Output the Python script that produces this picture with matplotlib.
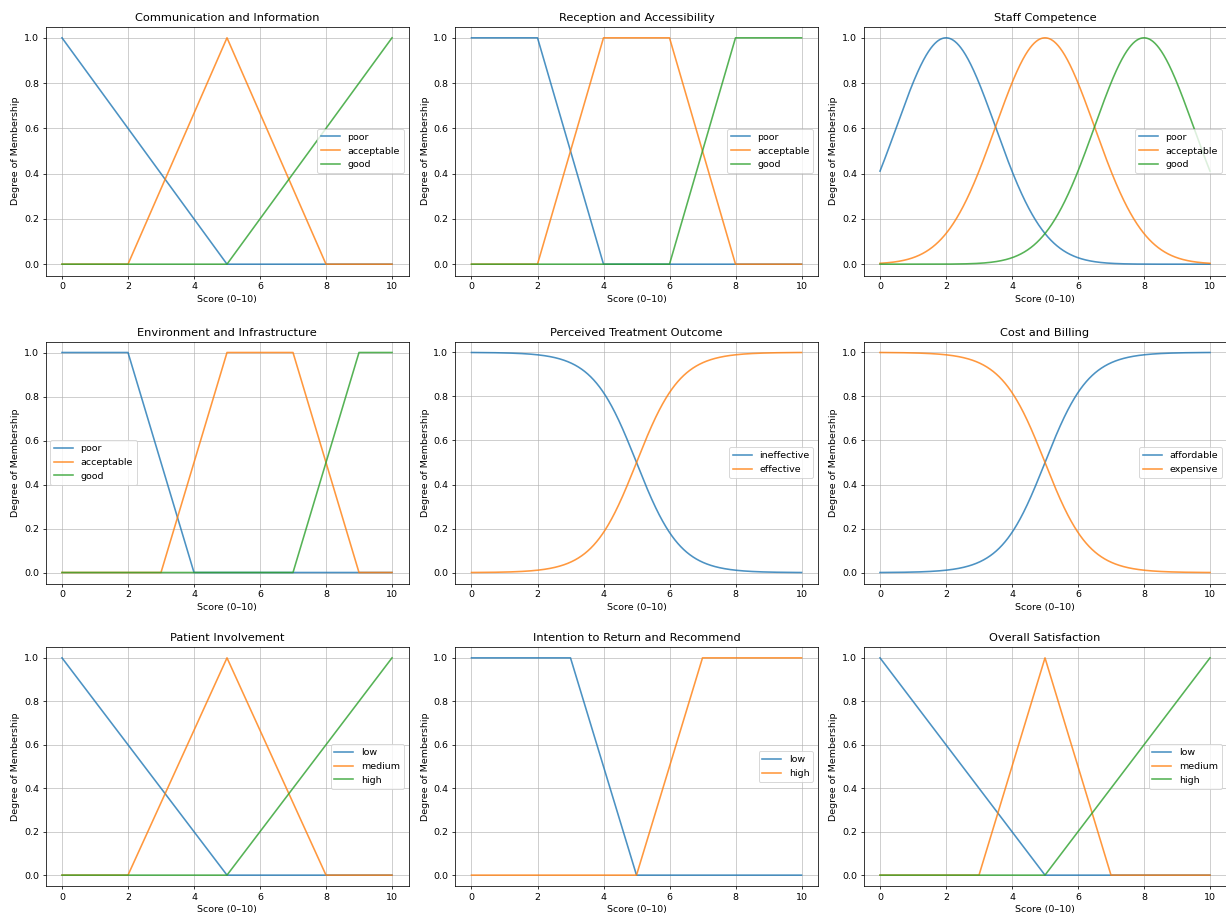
import numpy as np
import matplotlib
matplotlib.use('Agg')
from matplotlib import pyplot as plt

# Universo de discurso das notas
x = np.linspace(0, 10, 1001)

# Parametros das funcoes de pertinencia de cada variavel
comunicacao_nomes = ['poor', 'acceptable', 'good']
comunicacao_params = [[0, 0, 5], [2, 5, 8], [5, 10, 10]]

recepcao_nomes = ['poor', 'acceptable', 'good']
recepcao_params = [[0, 0, 2, 4], [2, 4, 6, 8], [6, 8, 10, 10]]

equipe_nomes = ['poor', 'acceptable', 'good']
equipe_centros = [2, 5, 8]
equipe_sigma = 1.5

ambiente_nomes = ['poor', 'acceptable', 'good']
ambiente_params = [[0, 0, 2, 4], [3, 5, 7, 9], [7, 9, 10, 10]]

resultado_nomes = ['ineffective', 'effective']
resultado_params = [[5, -1.5], [5, 1.5]]   # centro, inclinacao

custo_nomes = ['affordable', 'expensive']
custo_params = [[5, 1.5], [5, -1.5]]

envolvimento_nomes = ['low', 'medium', 'high']
envolvimento_params = [[0, 0, 5], [2, 5, 8], [5, 10, 10]]

retorno_nomes = ['low', 'high']
retorno_params = [[0, 0, 3, 5], [5, 7, 10, 10]]

satisfacao_nomes = ['low', 'medium', 'high']
satisfacao_params = [[0, 0, 5], [3, 5, 7], [5, 10, 10]]


def trimf(x, p):
    a, b, c = p
    return np.interp(x, [a, b, c], [1.0 if a == b else 0.0, 1.0, 1.0 if b == c else 0.0])


def trapmf(x, p):
    a, b, c, d = p
    return np.interp(x, [a, b, c, d], [1.0 if a == b else 0.0, 1.0, 1.0, 1.0 if c == d else 0.0])


def gaussmf(x, c, s):
    return np.exp(-((x - c) ** 2) / (2 * s ** 2))


def sigmf(x, p):
    c, k = p
    return 1.0 / (1.0 + np.exp(-k * (x - c)))


paineis = [
    ('Communication and Information', comunicacao_nomes,
     [trimf(x, p) for p in comunicacao_params], 'center right'),
    ('Reception and Accessibility', recepcao_nomes,
     [trapmf(x, p) for p in recepcao_params], 'center right'),
    ('Staff Competence', equipe_nomes,
     [gaussmf(x, c, equipe_sigma) for c in equipe_centros], 'center right'),
    ('Environment and Infrastructure', ambiente_nomes,
     [trapmf(x, p) for p in ambiente_params], 'center left'),
    ('Perceived Treatment Outcome', resultado_nomes,
     [sigmf(x, p) for p in resultado_params], 'center right'),
    ('Cost and Billing', custo_nomes,
     [sigmf(x, p) for p in custo_params], 'center right'),
    ('Patient Involvement', envolvimento_nomes,
     [trimf(x, p) for p in envolvimento_params], 'center right'),
    ('Intention to Return and Recommend', retorno_nomes,
     [trapmf(x, p) for p in retorno_params], 'center right'),
    ('Overall Satisfaction', satisfacao_nomes,
     [trimf(x, p) for p in satisfacao_params], 'center right'),
]

W, H = 1226, 917
dpi = 1226 / 18
fig = plt.figure(figsize=(W / dpi, H / dpi), dpi=dpi)

# posicoes das areas dos graficos em pixels (esquerda, topo, direita, base)
colunas = [(45.5, 408.5), (455, 818), (863.5, 1226.5)]
linhas = [(26.5, 275.5), (341.5, 583.5), (647, 886)]

for i, (titulo, nomes, curvas, loc) in enumerate(paineis):
    l, r = colunas[i % 3]
    t, b = linhas[i // 3]
    ax = fig.add_axes([l / W, 1 - b / H, (r - l) / W, (b - t) / H])
    for nome, y in zip(nomes, curvas):
        ax.plot(x, y, label=nome, linewidth=1.7, alpha=0.8)
    ax.set_title(titulo)
    ax.set_xlabel('Score (0\u201310)')
    ax.set_ylabel('Degree of Membership')
    ax.set_xticks([0, 2, 4, 6, 8, 10])
    ax.grid(True, alpha=0.8)
    ax.legend(loc=loc)

fig.savefig('out.png', dpi=dpi)
